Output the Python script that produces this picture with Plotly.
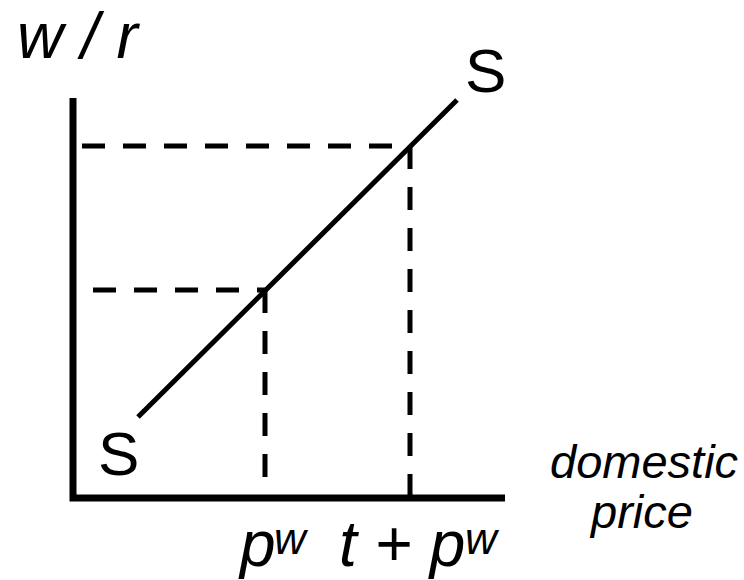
import plotly.graph_objects as go

# Diagram values (units = pixels from the axis corner)
axis_x = [0, 0, 432]
axis_y = [400, 0, 0]
supply_x = [65, 384]
supply_y = [81, 398]
p_w = 192
t_p_w = 337
wr_low = 208
wr_high = 352
dash_start_low = 20
dash_start_high = 9

FONT = "Liberation Sans, Arial, sans-serif"
DASH = "23px,18px"

fig = go.Figure()

# dashed guide lines
fig.add_trace(go.Scatter(x=[dash_start_low, p_w], y=[wr_low, wr_low], mode="lines",
                         line=dict(color="black", width=5, dash=DASH), hoverinfo="skip"))
fig.add_trace(go.Scatter(x=[p_w, p_w], y=[wr_low, 0], mode="lines",
                         line=dict(color="black", width=5, dash=DASH), hoverinfo="skip"))
fig.add_trace(go.Scatter(x=[dash_start_high, t_p_w], y=[wr_high, wr_high], mode="lines",
                         line=dict(color="black", width=5, dash=DASH), hoverinfo="skip"))
fig.add_trace(go.Scatter(x=[t_p_w, t_p_w], y=[wr_high, 0], mode="lines",
                         line=dict(color="black", width=5, dash=DASH), hoverinfo="skip"))

# supply curve
fig.add_trace(go.Scatter(x=supply_x, y=supply_y, mode="lines",
                         line=dict(color="black", width=5), hoverinfo="skip"))

# axes
fig.add_trace(go.Scatter(x=axis_x, y=axis_y, mode="lines",
                         line=dict(color="black", width=7), hoverinfo="skip"))

def label(text, x, y, size, italic=True):
    fig.add_annotation(x=x, y=y, xref="x", yref="y", text=text, showarrow=False,
                       xanchor="center", yanchor="middle",
                       font=dict(family=FONT, size=size, color="black",
                                 style="italic" if italic else "normal"))

label("w / r", 6, 462, 64)
label("S", 412, 428, 62, italic=False)
label("S", 45, 45, 62, italic=False)
label("domestic", 571, 37, 47)
label("price", 568, -13, 47)
label("p", 184, -46, 64)
label("w", 218, -40, 44)
label("t + p", 329, -46, 64)
label("w", 409, -40, 44)

fig.update_layout(
    width=744, height=580,
    margin=dict(l=0, r=0, t=0, b=0),
    paper_bgcolor="white", plot_bgcolor="white",
    showlegend=False,
    hovermode=False,
    xaxis=dict(range=[-73, 671], visible=False, fixedrange=True),
    yaxis=dict(range=[-82, 498], visible=False, fixedrange=True),
)

fig.write_html(
    "out.html",
    config={"displayModeBar": False, "staticPlot": True},
    post_script="document.body.style.margin='0';document.body.style.overflow='hidden';",
)
